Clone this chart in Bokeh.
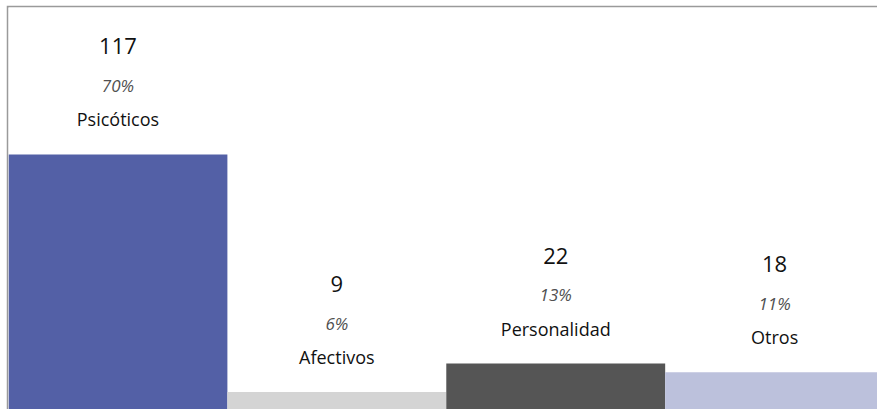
from bokeh.plotting import figure
from bokeh.models import Range1d, ColumnDataSource
from bokeh.embed import file_html
from bokeh.resources import INLINE
from bokeh.core.properties import value

categories = ["Psicóticos", "Afectivos", "Personalidad", "Otros"]
counts = [117, 9, 22, 18]
percent_labels = ["70%", "6%", "13%", "11%"]
colors = ["#5360A6", "#D4D4D4", "#555555", "#BCC1DC"]

positions = list(range(len(categories)))
src = ColumnDataSource(dict(
    x=positions,
    top=counts,
    cat=categories,
    pct=percent_labels,
    cnt=[str(c) for c in counts],
    color=colors,
))

p = figure(
    width=871, height=404,
    x_range=Range1d(-0.5, 3.47),
    y_range=Range1d(1.1, 183.8),
    output_backend="svg",
    toolbar_location=None,
    x_axis_location=None, y_axis_location=None,
    min_border_left=2, min_border_top=2,
    min_border_right=0, min_border_bottom=0,
)
p.margin = (5, 0, 0, 6)
p.grid.visible = False
p.outline_line_color = None
p.border_fill_color = "#9A9A9A"
p.background_fill_color = "white"

p.vbar(x="x", top="top", bottom=0, width=1.0, fill_color="color",
       line_color=None, source=src)

FONT = value("Open Sans")
p.text(x="x", y="top", text="cnt", y_offset=-108, text_align="center",
       text_baseline="alphabetic", text_font=FONT, text_font_size="22px",
       text_color="#111111", source=src)
p.text(x="x", y="top", text="pct", y_offset=-69, text_align="center",
       text_baseline="alphabetic", text_font=FONT, text_font_size="17px",
       text_font_style="italic", text_color="#505050", source=src)
p.text(x="x", y="top", text="cat", y_offset=-35, text_align="center",
       text_baseline="alphabetic", text_font=FONT, text_font_size="18px",
       text_color="#111111", source=src)

open("out.html", "w").write(file_html(p, INLINE))
